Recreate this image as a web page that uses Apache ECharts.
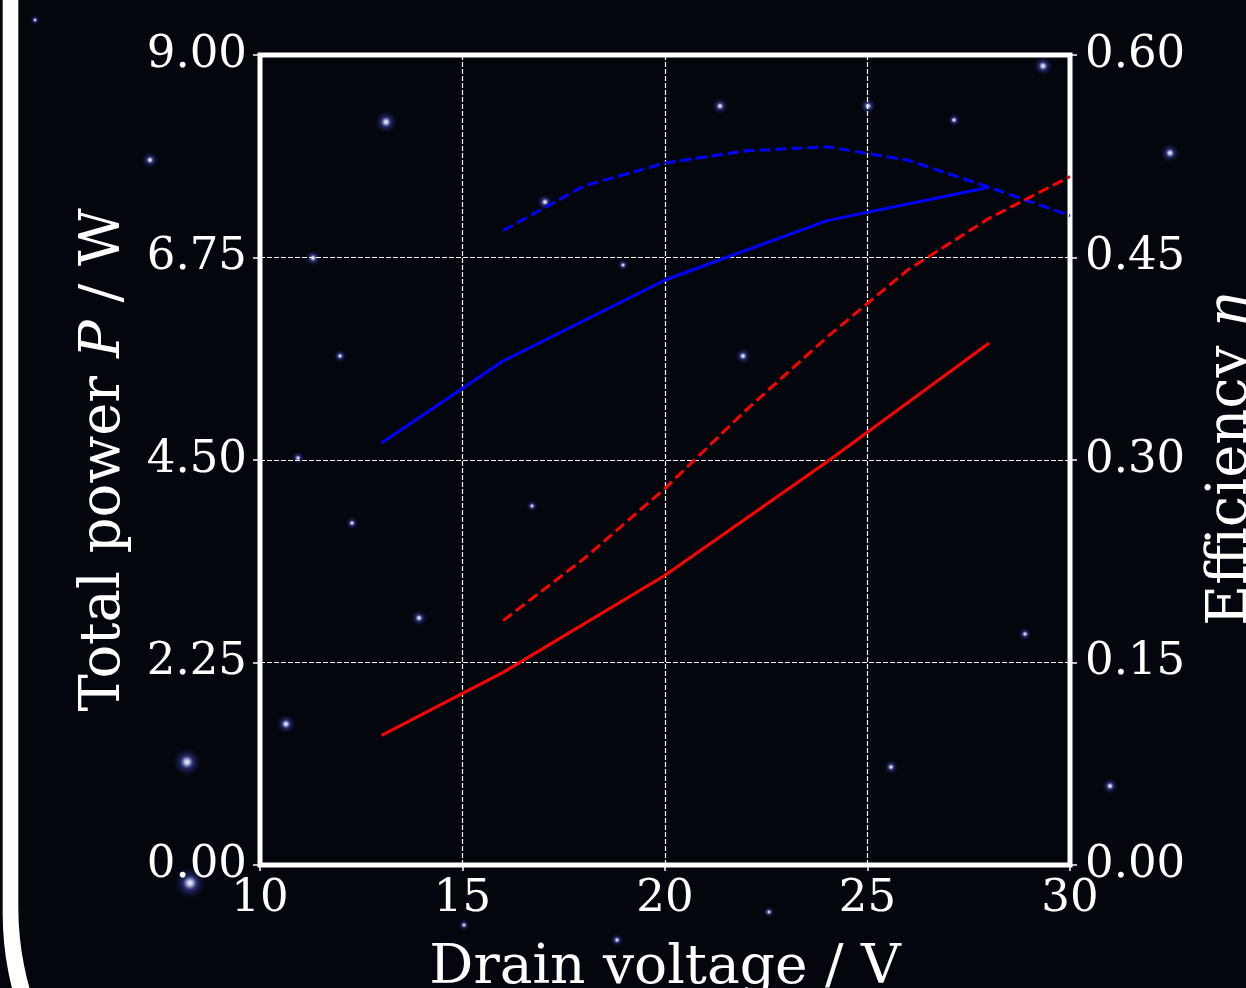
<!DOCTYPE html>
<html>
<head>
<meta charset="utf-8">
<script src="https://cdn.jsdelivr.net/npm/echarts@6/dist/echarts.min.js"></script>
<style>
html,body{margin:0;padding:0;background:#04060e;}
#c{width:1246px;height:988px;}
</style>
</head>
<body>
<div id="c"></div>
<script>
// ---- data ----
var voltsPower = [13, 16, 20, 24, 28];
var powerBlue  = [4.69, 5.60, 6.50, 7.16, 7.53];
var powerRed   = [1.44, 2.14, 3.22, 4.48, 5.80];
var voltsEff   = [16, 18, 20, 22, 24, 26, 28, 30];
var effBlue    = [0.470, 0.503, 0.520, 0.529, 0.532, 0.522, 0.502, 0.481];
var effRed     = [0.181, 0.227, 0.279, 0.337, 0.391, 0.441, 0.479, 0.510];
var xTicks = [10, 15, 20, 25, 30];
var powerTicks = [0, 2.25, 4.5, 6.75, 9];
var effTicks = [0, 0.15, 0.3, 0.45, 0.6];

function pairs(xs, ys){ return xs.map(function(x,i){ return [x, ys[i]]; }); }

var BG = '#04060e';
// background decoration (stars)
var stars = [
 [386,122,3.5],[150,160,2.5],[720,106,2.5],[868,106,2.5],[954,120,2],[1043,66,3],[1170,153,3],
 [545,202,2.5],[313,258,2.5],[623,265,1.8],[340,356,2],[743,356,2.5],[298,458,2],[352,523,2],
 [532,506,1.8],[419,618,2.5],[286,724,3],[187,762,4.5],[190,883,5],[891,767,2.2],[1110,786,2.5],
 [1025,634,2],[769,912,1.8],[617,940,2],[464,925,1.8],[35,20,1.5]
];
var starGraphics = stars.map(function(s){
  return {type:'circle', silent:true, z:-10, shape:{cx:s[0], cy:s[1], r:s[2]*3.2},
    style:{fill:{type:'radial', x:0.5, y:0.5, r:0.5, colorStops:[
      {offset:0, color:'rgba(250,250,255,1)'},
      {offset:0.18, color:'rgba(210,215,255,0.85)'},
      {offset:0.45, color:'rgba(70,80,200,0.45)'},
      {offset:1, color:'rgba(20,20,90,0)'}]}}};
});
// card frame on the left (outer white shape, inner background shape)
var frame = [
  {type:'rect', silent:true, z:-30, shape:{x:2.7, y:-1000, width:4000, height:2214, r:300},
   style:{fill:'#ffffff'}},
  {type:'rect', silent:true, z:-29, shape:{x:18.3, y:-1000, width:4000, height:2207, r:300},
   style:{fill:BG}}
];

var FONT = 'DejaVu Serif';
var chart = echarts.init(document.getElementById('c'), null, {renderer:'canvas'});
var white = '#ffffff';

chart.setOption({
  backgroundColor: BG,
  animation: false,
  graphic: frame.concat(starGraphics),
  grid: {left:260, right:176, top:55, bottom:123, show:true, outerBoundsMode:'none',
         borderColor:white, borderWidth:5, backgroundColor:'transparent', containLabel:false},
  xAxis: {
    type:'value', min:xTicks[0], max:xTicks[xTicks.length-1], interval:xTicks[1]-xTicks[0],
    name:'Drain voltage / V', nameLocation:'middle', nameGap:76,
    nameTextStyle:{color:white, fontFamily:FONT, fontSize:55},
    axisLine:{show:false},
    axisTick:{show:true, length:6, lineStyle:{color:white, width:1.5}},
    axisLabel:{color:white, fontFamily:FONT, fontSize:45, margin:12},
    splitLine:{show:true, lineStyle:{color:white, width:1.2, type:[5,2]}}
  },
  yAxis: [{
    type:'value', min:powerTicks[0], max:powerTicks[powerTicks.length-1], interval:powerTicks[1]-powerTicks[0],
    position:'left',
    name:'Total power {i|P} / W', nameLocation:'middle', nameGap:128, nameRotate:90,
    nameTextStyle:{color:white, fontFamily:FONT, fontSize:56,
      rich:{i:{fontStyle:'italic', fontFamily:FONT, fontSize:56, color:white}}},
    axisLine:{show:false},
    axisTick:{show:true, length:7, lineStyle:{color:white, width:1.5}},
    axisLabel:{color:white, fontFamily:FONT, fontSize:45, margin:13,
      formatter:function(v){ return v.toFixed(2); }},
    splitLine:{show:true, lineStyle:{color:white, width:1.2, type:[5,2]}}
  },{
    type:'value', min:effTicks[0], max:effTicks[effTicks.length-1], interval:effTicks[1]-effTicks[0],
    position:'right',
    name:'Efficiency {i|η}', nameLocation:'middle', nameGap:133, nameRotate:90,
    nameTextStyle:{color:white, fontFamily:FONT, fontSize:56,
      rich:{i:{fontStyle:'italic', fontFamily:FONT, fontSize:56, color:white}}},
    axisLine:{show:false},
    axisTick:{show:true, length:7, lineStyle:{color:white, width:1.5}},
    axisLabel:{color:white, fontFamily:FONT, fontSize:45, margin:15,
      formatter:function(v){ return v.toFixed(2); }},
    splitLine:{show:false}
  }],
  series: [
    {type:'line', yAxisIndex:0, data:pairs(voltsPower, powerBlue), showSymbol:false,
     lineStyle:{color:'#0000ff', width:3}},
    {type:'line', yAxisIndex:0, data:pairs(voltsPower, powerRed), showSymbol:false,
     lineStyle:{color:'#ff0000', width:3}},
    {type:'line', yAxisIndex:1, data:pairs(voltsEff, effBlue), showSymbol:false,
     lineStyle:{color:'#0000ff', width:3, type:[11,5]}},
    {type:'line', yAxisIndex:1, data:pairs(voltsEff, effRed), showSymbol:false,
     lineStyle:{color:'#ff0000', width:3, type:[11,5]}}
  ]
});
</script>
</body>
</html>
